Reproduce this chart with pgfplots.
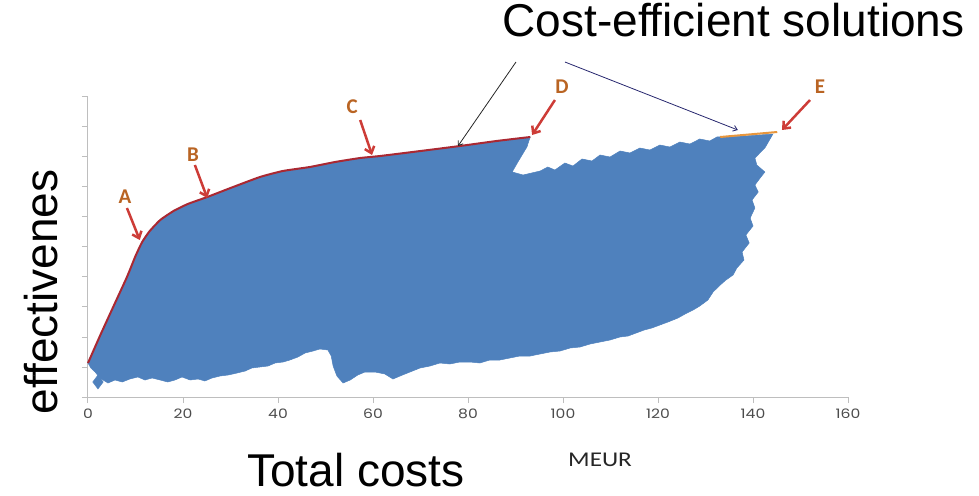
\documentclass[border=0pt]{standalone}
\usepackage{pgfplots}
\pgfplotsset{compat=1.18}
\usepackage{fontspec}
\setmainfont{Liberation Sans}
\newfontfamily\pop{Poppins}
\newfontfamily\carl{Carlito}
\usetikzlibrary{arrows.meta}
\definecolor{xlblue}{RGB}{79,129,189}
\definecolor{frontred}{RGB}{170,40,50}
\definecolor{arrred}{RGB}{205,60,55}
\definecolor{lettc}{RGB}{185,100,35}
\definecolor{eorange}{RGB}{232,150,60}
\definecolor{axgray}{RGB}{190,190,190}
\begin{document}
\begin{tikzpicture}
\useasboundingbox (-88pt,-98pt) rectangle (891pt,397pt);
\begin{axis}[
  at={(0,0)}, anchor=south west,
  scale only axis, width=760pt, height=300pt,
  xmin=0, xmax=160, ymin=0, ymax=300,
  axis lines*=left,
  axis line style={axgray, line width=1pt},
  tick style={axgray, line width=1pt},
  tick align=outside, major tick length=6pt,
  xtick={0,20,...,160}, ytick={0,30,...,300}, yticklabels={},
  /pgf/number format/assume math mode=true,
  xticklabel style={font=\pop\fontsize{13}{15}\selectfont, text=black!70, xscale=1.2, yshift=-2pt},
  clip=false,
]
% scatter cloud outline (feasible solutions)
\addplot[fill=xlblue, draw=xlblue, line width=0.5pt] coordinates {
(0,34) (2.6,62) (5.3,90) (8.2,120) (10,141) (11.4,155) (13,166) (15.2,177) (18,186) (21,193) (25.1,200) (30,209) (36.2,220) (41,226) (46.7,230) (52,235) (57.3,239) (61.5,241) (70,246) (78.3,251) (86,256) (93.1,260)
(92.4,250) (90.5,235) (89.3,225) (91.6,222)
(95.2,226) (96.8,230) (98.3,227) (100.4,234) (102.1,231) (104.0,238) (106.1,236) (107.8,242) (109.9,240) (112.0,246) (114.1,244) (116.2,249) (118.3,247) (120.4,252) (122.5,250) (124.6,255) (126.7,253) (128.8,258) (130.9,256) (132.4,260) (134.1,260) (138.3,261) (144.2,263)
(142.5,249) (140.4,239) (140.8,232) (142.5,225) (141.5,219) (140.4,212) (141.1,205) (139.8,197) (140.4,189) (139.4,179) (140.0,171) (138.5,162) (139.2,154) (137.7,145) (138.1,137) (136.6,129) (135.8,122) (134.3,117) (133.1,112) (131.6,105) (130.5,97) (128.8,91) (127.4,87) (125.7,83) (124.2,79) (122.1,75) (120.4,72) (118.7,69) (117.1,67) (115.4,64) (113.7,61) (112.0,60) (109.9,57) (107.8,55) (105.7,53) (103.6,50) (101.5,49) (99.4,46) (97.3,45) (95.2,43) (93.1,41) (90.9,41) (88.8,39) (86.7,37) (84.6,37) (82.5,34) (80.4,35) (78.3,35) (76.2,33) (74.1,34) (72.0,31) (69.9,29) (67.8,25) (65.7,21) (64.2,18) (62.5,23) (60.4,25) (58.3,25) (56.8,22) (55.2,17) (53.7,14) (52.4,21) (51.6,31) (51.2,41) (50.5,47) (48.8,48) (47.4,46) (45.7,44) (44.2,40) (42.5,37) (41.1,35) (39.4,34) (37.9,31) (36.2,30) (34.5,29) (33.1,26) (31.4,24) (29.5,22) (27.8,21) (26.1,19) (24.6,16) (23.2,18) (21.5,17) (19.8,20) (18.3,17) (16.8,15) (15.2,17) (13.5,19) (12.0,17) (10.5,20) (8.8,18) (7.2,15) (5.7,17) (4.2,14) (2.5,19) (1.5,25) (0.6,29) (0,34)
} --cycle;
\addplot[only marks, mark=diamond*, mark size=7pt, color=xlblue] coordinates {(2.1,15)};
% cost-efficient frontier
\addplot[frontred, line width=2pt, smooth, tension=0.3] coordinates {
(0,34) (2.6,62) (5.3,90) (8.2,120) (10,141) (11.4,155) (13,166) (15.2,177) (18,186) (21,193) (25.1,200) (30,209) (36.2,220) (41,226) (46.7,230) (52,235) (57.3,239) (61.5,241) (70,246) (78.3,251) (86,256) (93.1,260)
};
\addplot[eorange, line width=2pt] coordinates {(133.1,260) (145.1,265)};
% annotations
\draw[arrred, line width=2.5pt, -{Straight Barb[length=6pt,width=10pt]}] (axis cs:8.2,189) -- (axis cs:10.9,157);
\draw[arrred, line width=2.5pt, -{Straight Barb[length=6pt,width=10pt]}] (axis cs:22.5,232) -- (axis cs:25.1,199);
\draw[arrred, line width=2.5pt, -{Straight Barb[length=6pt,width=10pt]}] (axis cs:57.3,277) -- (axis cs:59.8,242);
\draw[arrred, line width=2.5pt, -{Straight Barb[length=6pt,width=10pt]}] (axis cs:98.3,297) -- (axis cs:93.5,262);
\draw[arrred, line width=2.5pt, -{Straight Barb[length=6pt,width=10pt]}] (axis cs:152,297) -- (axis cs:146.1,267);
\node[text=lettc, font=\carl\bfseries\fontsize{21}{23}\selectfont] at (axis cs:7.8,200) {A};
\node[text=lettc, font=\carl\bfseries\fontsize{21}{23}\selectfont] at (axis cs:22.1,242) {B};
\node[text=lettc, font=\carl\bfseries\fontsize{21}{23}\selectfont] at (axis cs:55.6,290) {C};
\node[text=lettc, font=\carl\bfseries\fontsize{21}{23}\selectfont] at (axis cs:99.8,310) {D};
\node[text=lettc, font=\carl\bfseries\fontsize{21}{23}\selectfont] at (axis cs:154.1,310) {E};
\draw[black!85, line width=0.8pt, -{Straight Barb[length=4pt,width=6pt]}] (axis cs:90.1,335) -- (axis cs:77.9,251);
\draw[black!60!blue!70!gray, line width=0.8pt, -{Straight Barb[length=4pt,width=6pt]}] (axis cs:100.4,335) -- (axis cs:136.8,267);
\node[anchor=base, font=\fontsize{46}{50}\selectfont] at (axis cs:135.9,360) {Cost-efficient solutions};
\node[anchor=base, rotate=90, font=\fontsize{46}{50}\selectfont] at (axis cs:-6.5,105) {effectivenes};
\node[anchor=base, font=\fontsize{46}{50}\selectfont] at (axis cs:56.4,-89) {Total costs};
\node[font=\carl\fontsize{21}{23}\selectfont, xscale=1.2, text=black!85] at (axis cs:107.8,-63) {MEUR};
\end{axis}
\end{tikzpicture}
\end{document}
